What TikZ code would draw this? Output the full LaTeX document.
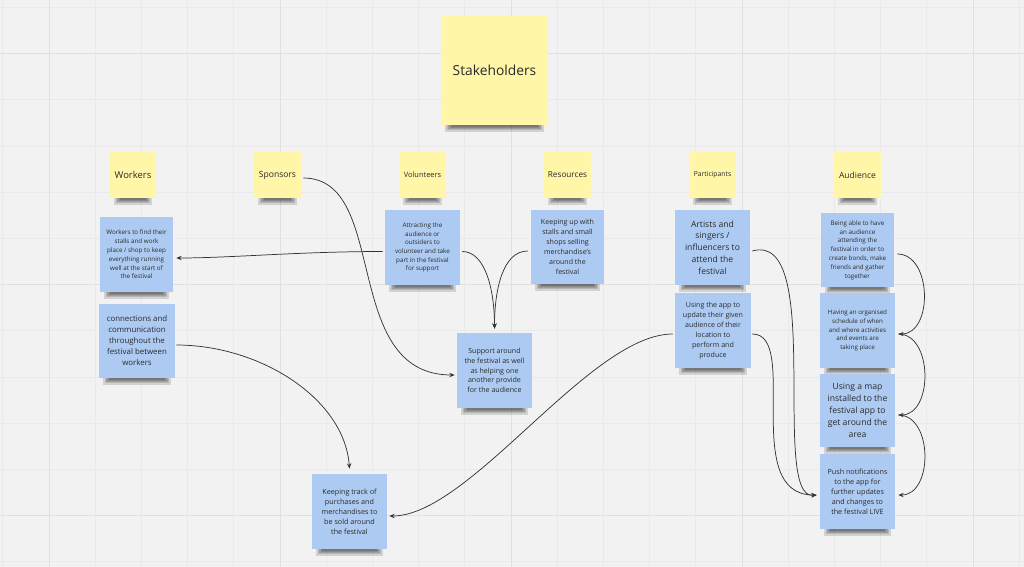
\documentclass[tikz,border=0pt]{standalone}
\usepackage{fontspec}
\setmainfont{Open Sans}
\usetikzlibrary{arrows.meta,calc}
\definecolor{bgc}{HTML}{F2F2F2}
\definecolor{gridl}{HTML}{EAEAEA}
\definecolor{gridb}{HTML}{E0E0E0}
\definecolor{ynote}{HTML}{FFF6A8}
\definecolor{bnote}{HTML}{ADCBF2}
\definecolor{txt}{HTML}{2A2A2A}
\definecolor{linec}{HTML}{333333}
\tikzset{
  yel/.style={fill=ynote, inner sep=0pt, align=center, text=txt},
  blu/.style={fill=bnote, inner sep=0pt, align=center, text=txt},
  conn/.style={draw=linec, line width=0.55pt, -{Stealth[length=4pt,width=3.2pt]}},
  shad/.style={fill=black, opacity=0.13}
}
\newcommand\stickynote[9]{%
  \pgfmathsetmacro\sw{(#4-#2)*0.75}%
  \pgfmathsetmacro\sh{(#5-#3)*0.75}%
  \foreach \i in {0,1,2,3,4} {%
    \fill[shad] ({#2+4+1.6*\i},#5) rectangle ({#4-4-1.6*\i},{#5+6.5-1.1*\i});
  }
  \node[#6, minimum width=\sw pt, minimum height=\sh pt, font=\fontsize{#7pt}{#8pt}\selectfont] (#1) at ({(#2+#4)/2},{(#3+#5)/2}) {#9};
}
\begin{document}
\begin{tikzpicture}[x=0.75pt,y=-0.75pt]
\useasboundingbox (0,0) rectangle (1024,567);
\fill[bgc] (0,0) rectangle (1024,567);
\foreach \k in {0,...,22} {\pgfmathsetmacro\xx{2.8+46.2*\k}\draw[gridl, line width=0.5pt] (\xx,0) -- (\xx,567);}
\foreach \k in {0,...,12} {\pgfmathsetmacro\yy{7.3+46.2*\k}\draw[gridl, line width=0.5pt] (0,\yy) -- (1024,\yy);}
\foreach \k in {1,6,11,16,21} {\pgfmathsetmacro\xx{2.8+46.2*\k}\draw[gridb, line width=0.6pt] (\xx,0) -- (\xx,567);}
\foreach \k in {1,6,11} {\pgfmathsetmacro\yy{7.3+46.2*\k}\draw[gridb, line width=0.6pt] (0,\yy) -- (1024,\yy);}

\stickynote{stk}{441}{16}{548}{125}{yel}{10.35}{12}{Stakeholders}
\stickynote{wo}{110}{152}{156}{198}{yel}{7.1}{8.5}{Workers}
\stickynote{sp}{254}{152}{301}{198}{yel}{6.4}{8}{Sponsors}
\stickynote{vo}{399}{152}{446}{198}{yel}{5.6}{7}{Volunteers}
\stickynote{re}{544}{152}{591}{198}{yel}{6.15}{7.5}{Resources}
\stickynote{pa}{689}{152}{736}{198}{yel}{5.1}{6.5}{Participants}
\stickynote{au}{834}{152}{881}{198}{yel}{6.4}{8}{Audience}

\stickynote{w1}{100}{217}{173}{292}{blu}{4.7}{6.6}{Workers to find their\\stalls and work\\place / shop to keep\\everything running\\well at the start of\\the festival}
\stickynote{w2}{99}{304}{175}{378}{blu}{5.9}{8.25}{connections and\\communication\\throughout the\\festival between\\workers}
\stickynote{v1}{385}{210}{460}{285}{blu}{4.7}{6.5}{Attracting the\\audience or\\outsiders to\\volunteer and take\\part in the festival\\for support}
\stickynote{r1}{531}{210}{604}{284}{blu}{5.3}{7.4}{Keeping up with\\stalls and small\\shops selling\\merchandise's\\around the\\festival}
\stickynote{p1}{675}{210}{750}{285}{blu}{6.45}{8.85}{Artists and\\singers /\\influencers to\\attend the\\festival}
\stickynote{p2}{675}{293}{751}{368}{blu}{5.3}{7.4}{Using the app to\\update their given\\audience of their\\location to\\perform and\\produce}
\stickynote{a1}{821}{213}{894}{287}{blu}{4.7}{6.6}{Being able to have\\an audience\\attending the\\festival in order to\\create bonds, make\\friends and gather\\together}
\stickynote{a2}{820}{293}{895}{368}{blu}{4.65}{6.55}{Having an organised\\schedule of when\\and where activities\\and events are\\taking place}
\stickynote{a3}{820}{374}{895}{447}{blu}{6.45}{8.9}{Using a map\\installed to the\\festival app to\\get around the\\area}
\stickynote{a4}{820}{454}{895}{529}{blu}{5.4}{7.5}{Push notifications\\to the app for\\further updates\\and changes to\\the festival LIVE}
\stickynote{sup}{457}{333}{532}{408}{blu}{5.3}{7.35}{Support around\\the festival as well\\as helping one\\another provide\\for the audience}
\stickynote{kt}{312}{474}{387}{549}{blu}{5.4}{7.5}{Keeping track of\\purchases and\\merchandises to\\be sold around\\the festival}

% connectors
\draw[conn] ($(v1.west)+(-2,4)$) .. controls +(-83,0) and +(54,0) .. ($(w1.east)+(3,3.5)$);
\draw[conn] ($(sp.east)+(2,3)$) .. controls +(87,0) and +(-115,0) .. ($(sup.west)+(-2,4.5)$);
\draw[conn] ($(v1.east)+(2,4)$) .. controls +(23,0) and +(0,-39) .. ($(sup.north)+(0,-4)$);
\draw[conn] ($(r1.west)+(-3,4)$) .. controls +(-25,0) and +(0,-39) .. ($(sup.north)+(0,-4)$);
\draw[conn] ($(p1.east)+(2,3.5)$) .. controls +(73,-21) and +(-47,5) .. ($(a4.west)+(-3,3.5)$);
\draw[conn] ($(p2.east)+(1,3.5)$) .. controls +(48,0) and +(-77,0) .. ($(a4.west)+(-3,3.5)$);
\draw[conn] ($(p2.west)+(-2,3.5)$) .. controls +(-83,0) and +(81,0) .. ($(kt.east)+(2,4.5)$);
\draw[conn] ($(w2.east)+(1,4)$) .. controls +(84,0) and +(-5,-70) .. ($(kt.north)+(0,-5)$);
\draw[conn] ($(a1.east)+(3,4)$) .. controls +(35,0) and +(35,0) .. ($(a2.east)+(3,3.5)$);
\draw[conn] ($(a2.east)+(3,3.5)$) .. controls +(35,0) and +(35,0) .. ($(a3.east)+(3,4.5)$);
\draw[conn] ($(a3.east)+(3,4.5)$) .. controls +(35,0) and +(35,0) .. ($(a4.east)+(3,3.5)$);
\end{tikzpicture}
\end{document}
